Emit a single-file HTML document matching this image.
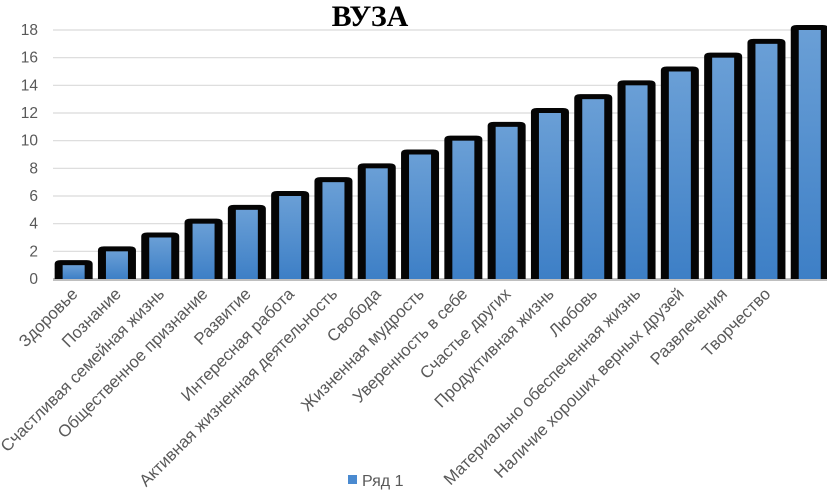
<!DOCTYPE html>
<html><head><meta charset="utf-8"><style>
html,body{margin:0;padding:0;background:#fff;width:827px;height:500px;overflow:hidden}
svg{display:block;font-family:"Liberation Sans",sans-serif}
</style></head><body>
<svg id="chart" width="827" height="500" viewBox="0 0 827 500" xmlns="http://www.w3.org/2000/svg">
<defs><linearGradient id="bg" x1="0" y1="0" x2="0" y2="1"><stop offset="0" stop-color="#6a9fd6"/><stop offset="1" stop-color="#3d7fc6"/></linearGradient></defs>
<text x="370" y="26" text-anchor="middle" font-family="Liberation Serif, serif" font-weight="bold" font-size="30" fill="#000">ВУЗА</text>
<g id="grid"></g><g id="bars"></g><g id="xlabels"></g>
<rect x="348" y="475" width="9" height="9" fill="#4a8ad0"/>
<text x="362" y="486" font-size="16" fill="#595959">Ряд 1</text>
</svg>
<script>
const categories=["Здоровье","Познание","Счастливая семейная жизнь","Общественное признание","Развитие","Интересная работа","Активная жизненная деятельность","Свобода","Жизненная мудрость","Уверенность в себе","Счастье других","Продуктивная жизнь","Любовь","Материально обеспеченная жизнь","Наличие хороших верных друзей","Развлечения","Творчество",""];
const values=[1,2,3,4,5,6,7,8,9,10,11,12,13,14,15,16,17,18];
const yTicks=[0,2,4,6,8,10,12,14,16,18];
const NS="http://www.w3.org/2000/svg";
const x0=52,step=43.3,y0=279,yMax=18,yTop=30;
function y(v){return y0-(v/yMax)*(y0-yTop);}
function xc(i){return x0+step*(i+0.5);}
function mk(t,a,p){const e=document.createElementNS(NS,t);for(const k in a)e.setAttribute(k,a[k]);p.appendChild(e);return e;}
const grid=document.getElementById('grid');
yTicks.forEach(v=>{
 const l=mk('line',{x1:53,x2:827,y1:y(v),y2:y(v),stroke:v===0?'#bfbfbf':'#d9d9d9','stroke-width':v===0?2:1.2},grid);
 
 
 const t=mk('text',{x:38,y:y(v)+5,'text-anchor':'end','font-size':15.5,fill:'#595959'},grid);
 t.textContent=v;
 
 
});
const bars=document.getElementById('bars'),xl=document.getElementById('xlabels');
values.forEach((v,i)=>{
 const c=xc(i),top=y(v);
 const o=mk('path',{d:`M${c-19},${y0} L${c-19},${top-1} Q${c-19},${top-5} ${c-13},${top-5} L${c+13},${top-5} Q${c+19},${top-5} ${c+19},${top-1} L${c+19},${y0} Z`,fill:'#050505'},bars);
 
 
 const b=mk('rect',{x:c-11,y:top,width:22,height:y0-top,fill:'url(#bg)'},bars);
 
 
 if(categories[i]){
  const t=mk('text',{x:c+5,y:295,'text-anchor':'end','font-size':16.8,fill:'#595959',transform:`rotate(-45 ${c+5} 295)`},xl);
  t.textContent=categories[i];
  
  
 }
});
mk('line',{x1:53,x2:827,y1:y0+1,y2:y0+1,stroke:'#bfbfbf','stroke-width':2},bars);
</script>
</body></html>
